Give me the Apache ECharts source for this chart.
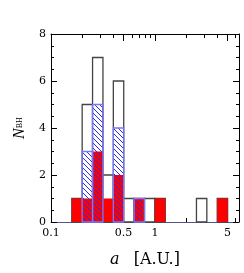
<!DOCTYPE html>
<html><head><meta charset="utf-8">
<script src="https://cdn.jsdelivr.net/npm/echarts@6/dist/echarts.min.js"></script>
<style>html,body{margin:0;padding:0;background:#fff}#c{width:244px;height:273px}</style>
</head><body><div id="c"></div>
<script>
// log10 bin edges (lower, upper) in a [A.U.]
const binLo = [-0.8,-0.7,-0.6,-0.5,-0.4,-0.3,-0.2,-0.1,0.0,0.1,0.2,0.3,0.4,0.5,0.6];
const binHi = [-0.7,-0.6,-0.5,-0.4,-0.3,-0.2,-0.1,0.0,0.1,0.2,0.3,0.4,0.5,0.6,0.7];
const allCounts  = [1,5,7,2,6,1,1,1,1,0,0,0,1,0,1];
const blueCounts = [0,3,5,0,4,0,1,0,0,0,0,0,0,0,0];
const redCounts  = [1,1,3,1,2,0,1,0,1,0,0,0,0,0,1];
const majorTickVals = [0.1,0.5,1,5];
const majorTickText = ['0.1','0.5','1','5'];
const minorTickVals = [0.2,0.3,0.4,0.6,0.7,0.8,0.9,2,3,4,6];
const xMin = 0.1, xMax = 6.45;

const L = Math.log10;
function toData(counts){ return binLo.map((lo,i)=>[lo, binHi[i], counts[i]]); }

// hatch pattern
const pc = document.createElement('canvas');
pc.width = 5; pc.height = 5;
const g = pc.getContext('2d');
g.strokeStyle = '#2a2af0'; g.lineWidth = 1;
g.beginPath();
g.moveTo(-1,-1); g.lineTo(6,6);
g.moveTo(-1,4); g.lineTo(1,6);
g.moveTo(4,-1); g.lineTo(6,1);
g.stroke();

function makeRender(fill, stroke, lw){
  return function(params, api){
    const v = api.value(2);
    if (!(v > 0)) return null;
    const p0 = api.coord([api.value(0), 0]);
    const p1 = api.coord([api.value(1), v]);
    return {type:'rect', shape:{x:p0[0], y:p1[1], width:p1[0]-p0[0], height:p0[1]-p1[1]},
      style:{fill: fill, stroke: stroke, lineWidth: lw}};
  };
}

const serif = 'DejaVu Serif';
const gridBox = {left:51, top:34, right:5, bottom:51};
const chart = echarts.init(document.getElementById('c'), null, {renderer:'canvas'});
const labelMap = {};
majorTickVals.forEach((v,i)=>{ labelMap[L(v).toFixed(4)] = majorTickText[i]; });

chart.setOption({
  animation:false,
  grid:[Object.assign({}, gridBox), Object.assign({}, gridBox)],
  xAxis:[
    {type:'value', gridIndex:0, position:'bottom', min:L(xMin), max:L(xMax),
     name:'{i|a}{r|[A.U.]}', nameLocation:'middle', nameGap:30,
     nameTextStyle:{rich:{i:{fontFamily:serif, fontStyle:'italic', fontSize:16, color:'#000', padding:[0,14,0,0]},
                          r:{fontFamily:serif, fontSize:16, color:'#000'}}},
     axisLine:{show:true, onZero:false, lineStyle:{color:'#55558a', width:1}},
     axisTick:{show:true, inside:true, length:7, customValues: majorTickVals.map(L), lineStyle:{color:'#000'}},
     axisLabel:{show:true, customValues: majorTickVals.map(L), margin:6,
       formatter: v => labelMap[v.toFixed(4)] || '', fontFamily:serif, fontSize:11, color:'#000'},
     splitLine:{show:false}},
    {type:'value', gridIndex:0, position:'top', min:L(xMin), max:L(xMax),
     axisLine:{show:true, onZero:false, lineStyle:{color:'#000', width:1}},
     axisTick:{show:true, inside:true, length:7, customValues: majorTickVals.map(L), lineStyle:{color:'#000'}},
     axisLabel:{show:false}, splitLine:{show:false}},
    {type:'value', gridIndex:1, position:'bottom', min:L(xMin), max:L(xMax),
     axisLine:{show:false},
     axisTick:{show:true, inside:true, length:4, customValues: minorTickVals.map(L), lineStyle:{color:'#000'}},
     axisLabel:{show:false}, splitLine:{show:false}},
    {type:'value', gridIndex:1, position:'top', min:L(xMin), max:L(xMax),
     axisLine:{show:false},
     axisTick:{show:true, inside:true, length:4, customValues: minorTickVals.map(L), lineStyle:{color:'#000'}},
     axisLabel:{show:false}, splitLine:{show:false}}
  ],
  yAxis:[
    {type:'value', gridIndex:0, position:'left', min:0, max:8, interval:2,
     name:'{n|N}{s|BH}', nameLocation:'middle', nameGap:22, nameRotate:90,
     nameTextStyle:{rich:{n:{fontFamily:'Liberation Serif', fontStyle:'italic', fontSize:16, color:'#000'},
                          s:{fontFamily:'Liberation Serif', fontSize:8, color:'#000'}}},
     axisLine:{show:true, onZero:false, lineStyle:{color:'#000'}},
     axisTick:{show:true, inside:true, length:6, lineStyle:{color:'#000'}},
     minorTick:{show:true, splitNumber:4, length:3, lineStyle:{color:'#000'}},
     axisLabel:{fontFamily:serif, fontSize:11, color:'#000', margin:5},
     splitLine:{show:false}},
    {type:'value', gridIndex:0, position:'right', min:0, max:8, interval:2,
     axisLine:{show:true, onZero:false, lineStyle:{color:'#000'}},
     axisTick:{show:true, inside:true, length:6, lineStyle:{color:'#000'}},
     minorTick:{show:true, splitNumber:4, length:3, lineStyle:{color:'#000'}},
     axisLabel:{show:false}, splitLine:{show:false}},
    {type:'value', gridIndex:1, show:false, min:0, max:8}
  ],
  series:[
    {type:'custom', xAxisIndex:0, yAxisIndex:0, renderItem:makeRender('#fff','#444',1.3),
     encode:{x:[0,1], y:2}, data:toData(allCounts), z:2},
    {type:'custom', xAxisIndex:0, yAxisIndex:0, renderItem:makeRender('#ff0000',null,0),
     encode:{x:[0,1], y:2}, data:toData(redCounts), z:3},
    {type:'custom', xAxisIndex:0, yAxisIndex:0, renderItem:makeRender({image:pc, repeat:'repeat'},'#7777ff',1.3),
     encode:{x:[0,1], y:2}, data:toData(blueCounts), z:4}
  ]
});
</script></body></html>
